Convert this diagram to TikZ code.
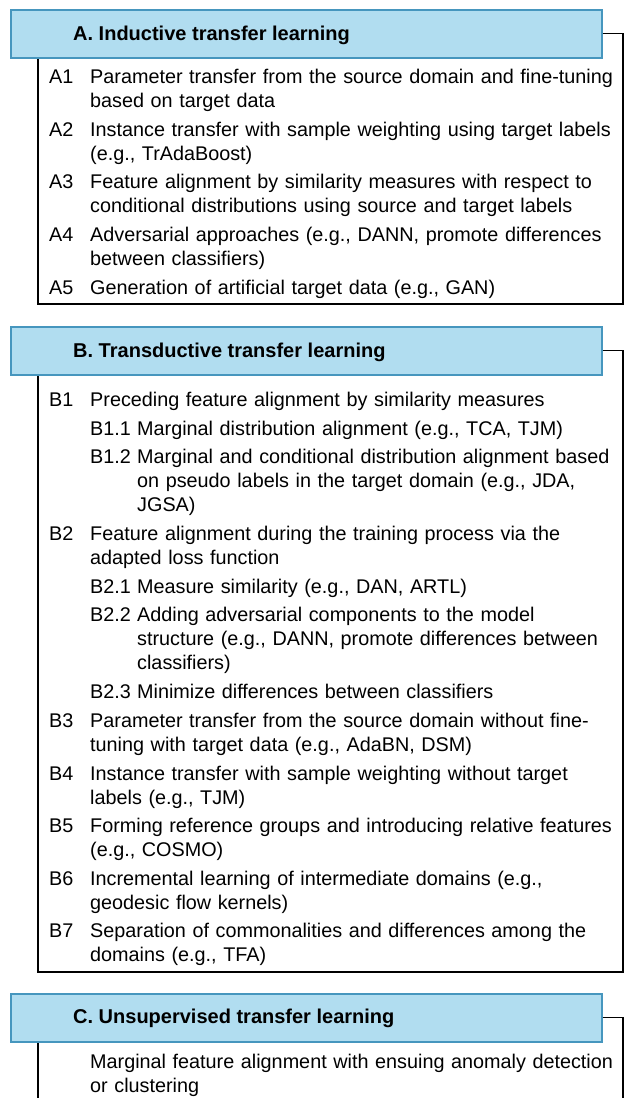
\documentclass[tikz,border=0pt]{standalone}
\usepackage{fontspec}
\setmainfont{Liberation Sans}
\usepackage{xcolor}
\usepackage{tikz}
\definecolor{HeadFill}{RGB}{177,221,240}
\definecolor{HeadLine}{RGB}{70,150,190}
\tikzset{%Global config
	>=latex,
	color = black ,
	%Styles
	Head/.style={
		draw=HeadLine,
		fill=HeadFill,
		line width=1.5pt,
		minimum width=591pt,
		minimum height=48pt,
		inner sep=0pt,
		anchor=north west,
	},
	Title/.style={
		anchor=base west,
		inner sep=0pt,
		font=\bfseries\fontsize{20}{24}\selectfont,
	},
	Lbl/.style={
		anchor=base west,
		inner sep=0pt,
		font=\fontsize{19.8}{24}\selectfont,
	},
	Txt/.style={
		anchor=base west,
		inner sep=0pt,
		text width=540pt,
		align=left,
		font=\fontsize{19.8}{24}\selectfont,
	},
	Frame/.style={
		line width=1.2pt,
		line join=miter,
	}
}
\begin{document}
\begin{tikzpicture}[x=1pt,y=-1pt]
		\useasboundingbox (0,0) rectangle (626,1098);
		\fill[white] (0,0) rectangle (626,1098);
		\clip (0,0) rectangle (626,1098);
		
		% Frames (drawn first, headers go on top)
		\node[Head] (hA) at (10,9) {};
		\node[Head] (hB) at (10,326) {};
		\node[Head] (hC) at (10,993) {};
		\coordinate (fA) at (623,304);
		\coordinate (fB) at (623,972);
		\coordinate (fC) at (623,1120);
		\draw[Frame] (hA.east) -| (fA) -| ([xshift=28pt]hA.south west);
		\draw[Frame] (hB.east) -| (fB) -| ([xshift=28pt]hB.south west);
		\draw[Frame] (hC.east) -| (fC) -| ([xshift=28pt]hC.south west);
		
		% Titles
		\node[Title] (tA) at (73,40) {A. Inductive transfer learning};
		\node[Title] (tB) at (73,357) {B. Transductive transfer learning};
		\node[Title] (tC) at (73,1023.5) {C. Unsupervised transfer learning};
		
		% A. Inductive
		\node[Lbl] (lA1) at (49,83.5) {A1};
		\node[Txt] (xA1) at (90,83.5) {Parameter transfer from the source domain and fine-tuning\\based on target data};
		\node[Lbl] (lA2) at (49,136) {A2};
		\node[Txt] (xA2) at (90,136) {Instance transfer with sample weighting using target labels\\(e.g., TrAdaBoost)};
		\node[Lbl] (lA3) at (49,188.5) {A3};
		\node[Txt] (xA3) at (90,188.5) {Feature alignment by similarity measures with respect to\\conditional distributions using source and target labels};
		\node[Lbl] (lA4) at (49,241) {A4};
		\node[Txt] (xA4) at (90,241) {Adversarial approaches (e.g., DANN, promote differences\\between classifiers)};
		\node[Lbl] (lA5) at (49,294) {A5};
		\node[Txt] (xA5) at (90,294) {Generation of artificial target data (e.g., GAN)};
		
		% B. Transductive
		\node[Lbl] (lB1) at (49,406.5) {B1};
		\node[Txt] (xB1) at (90,406.5) {Preceding feature alignment by similarity measures};
		\node[Lbl] (lB11) at (90,435) {B1.1};
		\node[Txt] (xB11) at (137,435) {Marginal distribution alignment (e.g., TCA, TJM)};
		\node[Lbl] (lB12) at (90,463.5) {B1.2};
		\node[Txt] (xB12) at (137,463.5) {Marginal and conditional distribution alignment based\\on pseudo labels in the target domain (e.g., JDA,\\JGSA)};
		\node[Lbl] (lB2) at (49,540) {B2};
		\node[Txt] (xB2) at (90,540) {Feature alignment during the training process via the\\adapted loss function};
		\node[Lbl] (lB21) at (90,593) {B2.1};
		\node[Txt] (xB21) at (137,593) {Measure similarity (e.g., DAN, ARTL)};
		\node[Lbl] (lB22) at (90,621.5) {B2.2};
		\node[Txt] (xB22) at (137,621.5) {Adding adversarial components to the model\\structure (e.g., DANN, promote differences between\\classifiers)};
		\node[Lbl] (lB23) at (90,698) {B2.3};
		\node[Txt] (xB23) at (137,698) {Minimize differences between classifiers};
		\node[Lbl] (lB3) at (49,727) {B3};
		\node[Txt] (xB3) at (90,727) {Parameter transfer from the source domain without fine-\\tuning with target data (e.g., AdaBN, DSM)};
		\node[Lbl] (lB4) at (49,780) {B4};
		\node[Txt] (xB4) at (90,780) {Instance transfer with sample weighting without target\\labels (e.g., TJM)};
		\node[Lbl] (lB5) at (49,832.5) {B5};
		\node[Txt] (xB5) at (90,832.5) {Forming reference groups and introducing relative features\\(e.g., COSMO)};
		\node[Lbl] (lB6) at (49,885) {B6};
		\node[Txt] (xB6) at (90,885) {Incremental learning of intermediate domains (e.g.,\\geodesic flow kernels)};
		\node[Lbl] (lB7) at (49,937.5) {B7};
		\node[Txt] (xB7) at (90,937.5) {Separation of commonalities and differences among the\\domains (e.g., TFA)};
		
		% C. Unsupervised
		\node[Txt] (xC) at (90,1068) {Marginal feature alignment with ensuing anomaly detection\\or clustering};
	\end{tikzpicture}
\end{document}
